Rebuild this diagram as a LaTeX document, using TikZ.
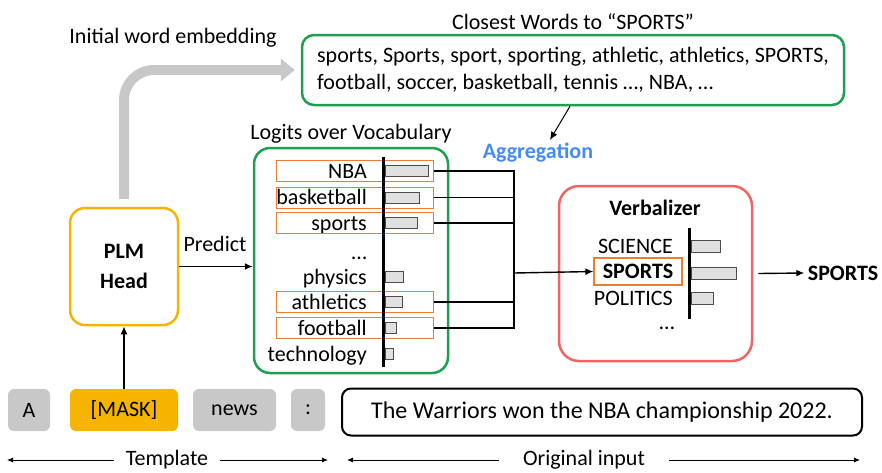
\documentclass[tikz,border=0pt]{standalone}
\usepackage{fontspec}
\setmainfont{Carlito}
\usetikzlibrary{positioning, arrows.meta}

\definecolor{tokgray}{RGB}{200,200,200}
\definecolor{amber}{RGB}{245,180,0}
\definecolor{boxgreen}{RGB}{30,160,80}
\definecolor{hlorange}{RGB}{237,125,49}
\definecolor{verbred}{RGB}{242,100,100}
\definecolor{aggblue}{RGB}{70,140,240}

\begin{document}
\begin{tikzpicture}[x=1pt, y=-1pt,
  font=\fontsize{22}{26}\selectfont,
  token/.style={rectangle, rounded corners=6pt, fill=tokgray, minimum height=42pt, inner sep=0pt},
  frame/.style={rectangle, rounded corners=12pt, line width=2.5pt},
  hl/.style={rectangle, draw=hlorange, line width=1pt, minimum width=157pt, minimum height=21pt},
  word/.style={anchor=base east, inner sep=0pt},
  bar/.style={draw=black!70, fill=black!12, line width=0.8pt},
  axis/.style={line width=3pt},
  arrow/.style={-{Latex[length=8pt, width=7pt]}, line width=1.4pt},
  tick/.style={-{Latex[length=6pt, width=5pt]}, line width=0.8pt},
  spanlabel/.style={inner xsep=12pt}
]
\useasboundingbox (0,0) rectangle (882,472);

% template tokens and input sentence
\node[token, minimum width=42pt] (a) at (29,410) {A};
\node[token, fill=amber, minimum width=108pt] (mask) at (124,410) {[MASK]};
\node[token, minimum width=83pt] (news) at (234.5,410) {news};
\node[token, minimum width=34pt] (colon) at (308,410) {:};
\node[frame, rounded corners=9pt, draw=black, line width=2pt, minimum width=520pt, minimum height=47pt,
  font=\fontsize{24}{28}\selectfont] (input) at (602,412) {The Warriors won the NBA championship 2022.};

\node[spanlabel] (tmpl) at (167,460) {Template};
\coordinate (tmplL) at (7,460);
\coordinate (tmplR) at (328,460);
\draw[tick] (tmpl) -- (tmplL);
\draw[tick] (tmpl) -- (tmplR);

\node[spanlabel, inner xsep=24pt] (orig) at (584,460) {Original input};
\coordinate (origL) at (347,460);
\coordinate (origR) at (860,460);
\draw[tick] (orig) -- (origL);
\draw[tick] (orig) -- (origR);

% PLM head
\node[frame, draw=amber, rounded corners=15pt, minimum width=108pt, minimum height=117pt, align=center,
  font=\bfseries\fontsize{22}{30}\selectfont] (plm) at (124,266.5) {PLM\\Head};
\draw[arrow] (mask) -- (plm);

% closest words
\node[frame, draw=boxgreen, minimum width=542pt, minimum height=70pt, align=left,
  font=\fontsize{22}{27}\selectfont] (closest) at (573,70)
  {sports, Sports, sport, sporting, athletic, athletics, SPORTS,\\football, soccer, basketball, tennis …, NBA, …};
\node[above=1pt of closest] (closesttitle) {Closest Words to “SPORTS”};
\node (init) at (173,38) {Initial word embedding};
\draw[line width=10pt, tokgray, rounded corners=30pt, -{Triangle[width=22pt, length=14pt]}]
  ([yshift=8pt]plm.north) |- ([xshift=-6pt]closest.west);

\node[font=\bfseries\fontsize{22}{26}\selectfont, text=aggblue] (agg) at (538,153) {Aggregation};
\draw[arrow, line width=1pt] ([xshift=-3pt]closest.south) -- ([xshift=12pt]agg.north);

% logits over the vocabulary
\node[frame, draw=boxgreen, rounded corners=16pt, minimum width=194pt, minimum height=225pt] (logits) at (351,260.5) {};
\node[above=0pt of logits] (logitstitle) {Logits over Vocabulary};
\node (pred) at (215,244) {Predict};
\draw[arrow] (plm.east) -- (plm.east -| logits.west);

\coordinate (join) at (514,273);
\foreach \w/\yy/\len/\hit in {NBA/171/43/1, basketball/197.5/34/1, sports/223/32/1,
    physics/277/18/0, athletics/302/17/1, football/328/11/1, technology/354/8/0}{
  \node[word] (w-\w) at (367,\yy+7) {\w};
  \draw[bar] (385,\yy-5.5) rectangle (385+\len,\yy+5.5);
  \ifnum\hit=1
    \node[hl] (hl-\w) at (354.5,\yy) {};
    \draw[line width=1.5pt] (hl-\w.east) -| (join);
  \fi
}
\node[word] (w-dots) at (367,253+6) {…};
\draw[axis] (383,157) -- (383,367);

% verbalizer
\node[frame, draw=verbred, rounded corners=20pt, minimum width=193pt, minimum height=175pt] (verb) at (655.5,273.5) {};
\node[font=\bfseries\fontsize{22}{26}\selectfont] (verbtitle) at (655,208) {Verbalizer};
\node[word] (science) at (673,246+7) {SCIENCE};
\node[draw=hlorange, line width=1.2pt, minimum width=88pt, minimum height=27pt, inner sep=0pt,
  font=\bfseries\fontsize{22}{26}\selectfont] (vsports) at (638,271.5) {SPORTS};
\node[word] (politics) at (673,298+7) {POLITICS};
\node (vdots) at (667,328) {…};
\draw[axis] (689,228) -- (689,319);
\draw[bar] (691,240) rectangle (720,252);
\draw[bar] (691,267) rectangle (736,279);
\draw[bar] (691,292) rectangle (713,304);
\draw[arrow] (join) -- (vsports.west);

\node[font=\bfseries\fontsize{22}{26}\selectfont] (out) at (843,273) {SPORTS};
\draw[arrow] ([xshift=5pt]verb.east) -- (out.west);

\end{tikzpicture}
\end{document}
